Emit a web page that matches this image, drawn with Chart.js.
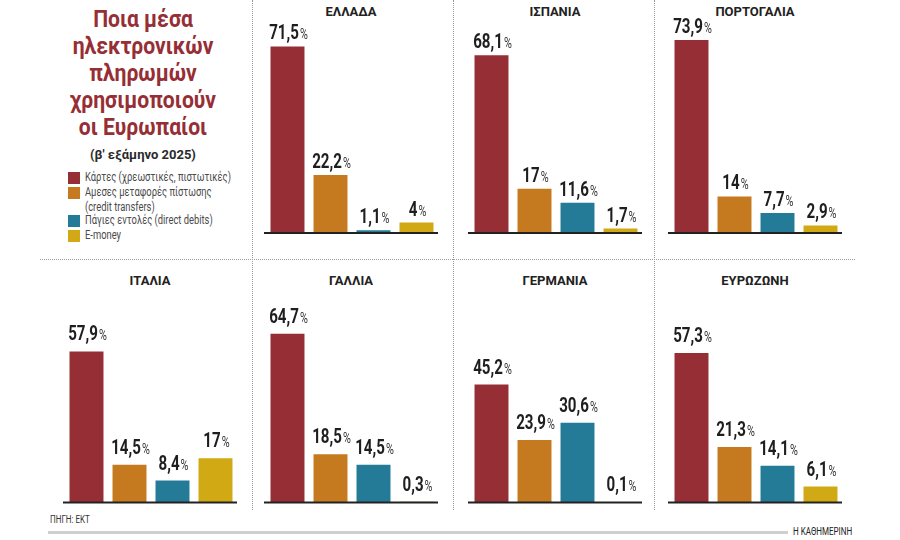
<!DOCTYPE html>
<html><head><meta charset="utf-8">
<script src="https://cdn.jsdelivr.net/npm/chart.js@4"></script>
<style>
html,body{margin:0;padding:0;background:#fff;}
#wrap{position:relative;width:900px;height:540px;overflow:hidden;font-family:Roboto,"Noto Sans",sans-serif;background:#fff;}
.vs{position:absolute;top:0;width:0;height:510px;border-left:1px dotted #9a9a9a;}
.hs{position:absolute;left:40px;width:815px;top:259px;height:0;border-top:1px dotted #9a9a9a;}
.ptitle{position:absolute;width:174px;text-align:center;font-weight:700;font-size:13px;line-height:16px;color:#222;}
canvas{position:absolute;}
#title{position:absolute;left:43px;top:6px;width:200px;text-align:center;color:#962e35;font-weight:700;font-size:24px;line-height:27px;transform:scaleX(0.88);transform-origin:100px 0;}
#sub{position:absolute;left:43px;top:146px;width:200px;text-align:center;color:#2a2a2a;font-weight:700;font-size:13px;line-height:18px;}
.lg{position:absolute;left:68px;height:14px;}
.sw{position:absolute;left:0;top:0;width:12px;height:12px;}
.lt{position:absolute;left:17px;top:-2px;white-space:nowrap;font-size:12.5px;line-height:14.5px;color:#4a4a4a;transform:scaleX(0.75);transform-origin:0 0;}
.foot{position:absolute;font-size:10px;color:#333;white-space:nowrap;transform:scaleX(0.8);transform-origin:0 0;}
</style>
</head>
<body>
<div id="wrap">
  <div class="vs" style="left:252px"></div>
  <div class="vs" style="left:453px"></div>
  <div class="vs" style="left:654px"></div>
  <div class="hs"></div>
  <div id="title">Ποια μέσα<br>ηλεκτρονικών<br>πληρωμών<br>χρησιμοποιούν<br>οι Ευρωπαίοι</div>
  <div id="sub">(β' εξάμηνο 2025)</div>
  <div id="legend"></div>
  <div class="foot" style="left:50px;top:514px;">ΠΗΓΗ: ΕΚΤ</div>
  <div style="position:absolute;left:48px;top:531px;width:740px;height:3px;background:#cfcfcf;"></div>
  <div class="foot" style="left:793px;top:526px;color:#222;">Η ΚΑΘΗΜΕΡΙΝΗ</div>
</div>
<script>
// ---- data ----
const countries = ['ΕΛΛΑΔΑ', 'ΙΣΠΑΝΙΑ', 'ΠΟΡΤΟΓΑΛΙΑ', 'ΙΤΑΛΙΑ', 'ΓΑΛΛΙΑ', 'ΓΕΡΜΑΝΙΑ', 'ΕΥΡΩΖΩΝΗ'];
const methods = ['Κάρτες (χρεωστικές, πιστωτικές)', 'Αμεσες μεταφορές πίστωσης (credit transfers)', 'Πάγιες εντολές (direct debits)', 'E-money'];
const cards   = [71.5, 68.1, 73.9, 57.9, 64.7, 45.2, 57.3];
const credit  = [22.2, 17,   14,   14.5, 18.5, 23.9, 21.3];
const debits  = [1.1,  11.6, 7.7,  8.4,  14.5, 30.6, 14.1];
const emoney  = [4,    1.7,  2.9,  17,   0.3,  0.1,  6.1];

// ---- styles / layout ----
const colors = ['#962e35', '#c57a1f', '#237b98', '#d1a914'];
const legendLines = [['Κάρτες (χρεωστικές, πιστωτικές)'], ['Αμεσες μεταφορές πίστωσης', '(credit transfers)'], ['Πάγιες εντολές (direct debits)'], ['E-money']];
const legendTops = [172, 187, 215, 230];
const slots = [[0,1],[0,2],[0,3],[1,0],[1,1],[1,2],[1,3]];
const colX = [63, 264, 468, 668];
const rows = [
  {top: 0,   height: 236, baseline: 233,   titleY: 4,   gap: 7},
  {top: 270, height: 236, baseline: 502.5, titleY: 273, gap: 11}
];
const PX_PER_UNIT = 2.61, YMAX = 80;

// legend (HTML)
const lg = document.getElementById('legend');
methods.forEach((m, i) => {
  const d = document.createElement('div');
  d.className = 'lg';
  d.style.top = legendTops[i] + 'px';
  d.innerHTML = '<div class="sw" style="background:' + colors[i] + '"></div><div class="lt">' + legendLines[i].join('<br>') + '</div>';
  lg.appendChild(d);
});

const baselinePlugin = {
  id: 'baselinePlugin',
  afterDatasetsDraw(chart) {
    const ctx = chart.ctx;
    const y = chart.scales.y.getPixelForValue(0);
    ctx.save();
    ctx.fillStyle = '#222';
    ctx.fillRect(0, y - 1, chart.width, 2);
    ctx.restore();
  }
};

const NUM_FONT = 'bold 21px Roboto', PCT_FONT = '15px Roboto', SX = 0.72;
const valueLabels = {
  id: 'valueLabels',
  afterDraw(chart, args, opts) {
    const ctx = chart.ctx;
    const meta = chart.getDatasetMeta(0);
    const data = chart.data.datasets[0].data;
    meta.data.forEach((bar, i) => {
      const num = String(data[i]).replace('.', ',');
      ctx.save();
      ctx.font = NUM_FONT;
      const nw = ctx.measureText(num).width * SX;
      ctx.font = PCT_FONT;
      const pw = ctx.measureText('%').width * SX;
      const total = nw + 1 + pw;
      const x0 = bar.x - total / 2 + 1;
      const yb = bar.y - opts.gap;
      ctx.textBaseline = 'alphabetic';
      ctx.textAlign = 'left';
      ctx.save();
      ctx.translate(x0, yb); ctx.scale(SX, 1);
      ctx.font = NUM_FONT; ctx.fillStyle = '#1e1e1e';
      ctx.fillText(num, 0, 0);
      ctx.restore();
      ctx.save();
      ctx.translate(x0 + nw + 1, yb); ctx.scale(SX, 1);
      ctx.font = PCT_FONT; ctx.fillStyle = '#333';
      ctx.fillText('%', 0, 0);
      ctx.restore();
      ctx.restore();
    });
  }
};

const wrap = document.getElementById('wrap');
countries.forEach((name, i) => {
  const [r, c] = slots[i];
  const row = rows[r];
  const left = colX[c];
  const t = document.createElement('div');
  t.className = 'ptitle';
  t.style.left = left + 'px';
  t.style.top = row.titleY + 'px';
  t.textContent = name;
  wrap.appendChild(t);

  const cv = document.createElement('canvas');
  cv.width = 174; cv.height = row.height;
  cv.style.left = left + 'px';
  cv.style.top = row.top + 'px';
  cv.style.width = '174px'; cv.style.height = row.height + 'px';
  wrap.appendChild(cv);

  const relBase = row.baseline - row.top;
  const padBottom = row.height - relBase;
  const padTop = relBase - YMAX * PX_PER_UNIT;

  new Chart(cv, {
    type: 'bar',
    data: {
      labels: methods,
      datasets: [{
        data: [cards[i], credit[i], debits[i], emoney[i]],
        backgroundColor: colors,
        borderWidth: 0,
        barPercentage: 0.79,
        categoryPercentage: 1.0
      }]
    },
    options: {
      responsive: false,
      animation: false,
      devicePixelRatio: 1,
      layout: {padding: {top: padTop, bottom: padBottom, left: 2, right: 0}},
      scales: {
        x: {display: false},
        y: {display: false, min: 0, max: YMAX}
      },
      plugins: {
        legend: {display: false},
        tooltip: {enabled: false},
        valueLabels: {gap: row.gap}
      }
    },
    plugins: [baselinePlugin, valueLabels]
  });
});
</script>
</body></html>
